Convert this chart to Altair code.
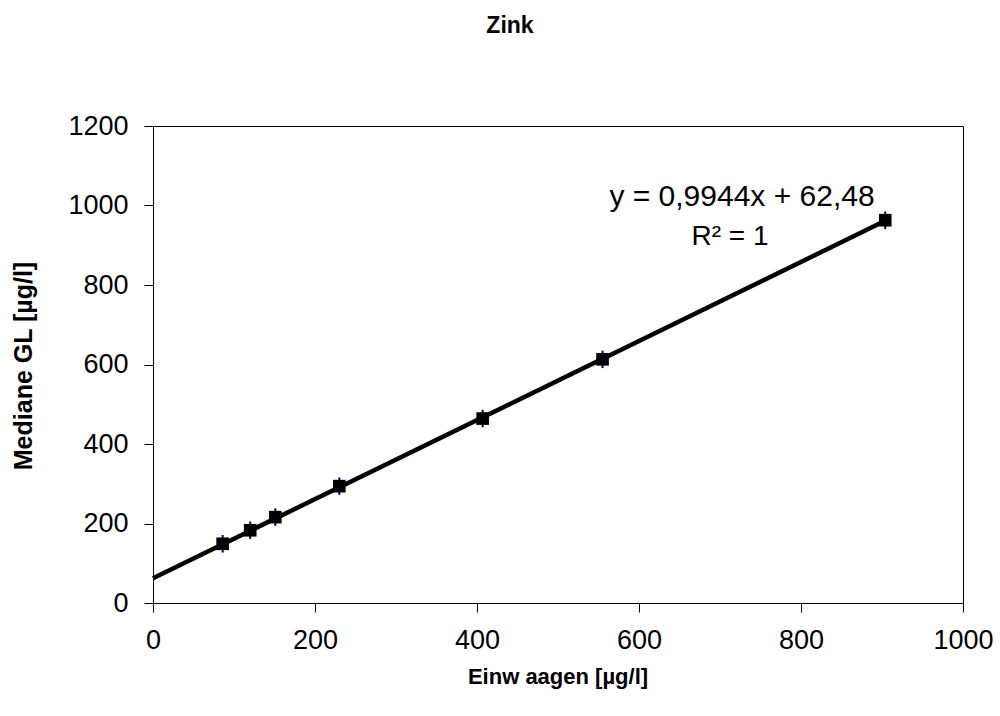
import altair as alt
import pandas as pd

# Data
einwaage = [86, 120, 151, 230, 407, 555, 904]
mediane = [149, 183, 216, 294, 464, 613, 963]
err = [22, 22, 22, 22, 22, 22, 22]

trend_x = [0, 904]
trend_y = [62.48, 961.4]

x_ticks = [0, 200, 400, 600, 800, 1000]
y_ticks = [0, 200, 400, 600, 800, 1000, 1200]

FONT = "Liberation Sans"

pts = pd.DataFrame({"x": einwaage, "y": mediane,
                    "lo": [m - e for m, e in zip(mediane, err)],
                    "hi": [m + e for m, e in zip(mediane, err)]})
trend = pd.DataFrame({"x": trend_x, "y": trend_y})

xscale = alt.Scale(domain=[0, 1000], nice=False, zero=False)
yscale = alt.Scale(domain=[0, 1200], nice=False, zero=False)

xaxis = alt.Axis(values=x_ticks, title=None, grid=False, domainColor="black",
                 tickColor="black", tickSize=9, labelFontSize=27, labelFont=FONT,
                 labelColor="black", labelPadding=15, labelFlush=False, format="d")
yaxis = alt.Axis(values=y_ticks, title=None, grid=False, domainColor="black",
                 tickColor="black", tickSize=9, labelFontSize=27, labelFont=FONT,
                 labelColor="black", labelPadding=16, format="d")

base = alt.Chart(pts)

errbars = base.mark_rule(color="#000080", strokeWidth=2).encode(
    x=alt.X("x:Q", scale=xscale, axis=xaxis),
    y=alt.Y("lo:Q", scale=yscale, axis=yaxis),
    y2="hi:Q",
)

line = alt.Chart(trend).mark_line(color="black", strokeWidth=4.5).encode(
    x=alt.X("x:Q", scale=xscale),
    y=alt.Y("y:Q", scale=yscale),
)

squares = base.mark_square(color="black", size=160, opacity=1).encode(
    x=alt.X("x:Q", scale=xscale),
    y=alt.Y("y:Q", scale=yscale),
)

labels = pd.DataFrame({
    "t": ["Zink", "y = 0,9944x + 62,48", "R\u00b2 = 1", "Einw aagen [µg/l]", "Mediane GL [µg/l]"],
    "px": [357, 589, 577, 405, -129],
    "py": [-100, 71, 111, 551, 240],
    "size": [23, 30, 28, 22, 25],
    "weight": ["bold", "normal", "normal", "bold", "bold"],
    "angle": [0, 0, 0, 0, 270],
})

texts = []
for _, r in labels.iterrows():
    texts.append(
        alt.Chart(pd.DataFrame({"t": [r["t"]]})).mark_text(
            font=FONT, fontSize=int(r["size"]), fontWeight=r["weight"],
            angle=int(r["angle"]), color="black", align="center", baseline="middle",
        ).encode(x=alt.value(float(r["px"])), y=alt.value(float(r["py"])), text="t:N")
    )

chart = alt.layer(errbars, line, squares, *texts).properties(
    width=810, height=477,
    background="white",
    autosize=alt.AutoSizeParams(type="none"),
    padding={"left": 153, "top": 126, "right": 37, "bottom": 113},
).configure_view(stroke="black", strokeWidth=1)

chart.save("out.html", embed_options={"renderer": "svg", "actions": False})
